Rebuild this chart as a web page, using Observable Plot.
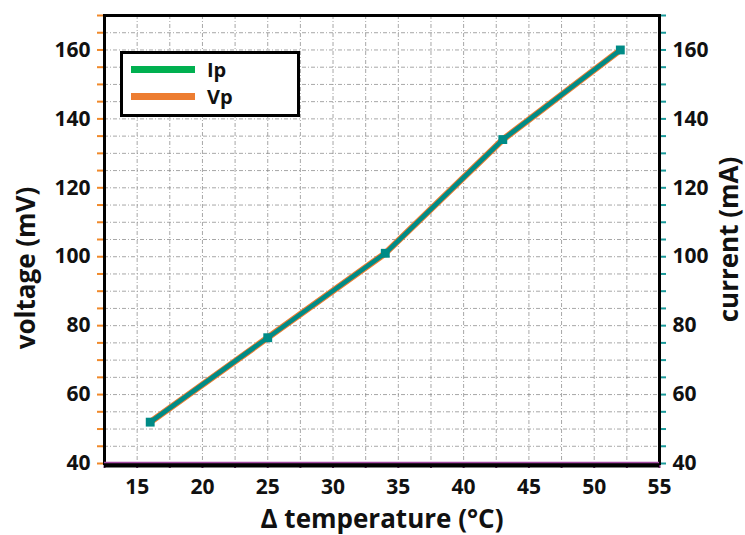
<!DOCTYPE html>
<html>
<head>
<meta charset="utf-8">
<script src="https://cdn.jsdelivr.net/npm/d3@7"></script>
<script src="https://cdn.jsdelivr.net/npm/@observablehq/plot@0.6"></script>
<style>
  html, body { margin: 0; padding: 0; background: #fff; }
  #wrap { position: relative; width: 745px; height: 535px; }
  #legend {
    position: absolute; left: 120px; top: 51px; width: 174px; height: 60px;
    border: 3px solid #000; background: #fff;
    font-family: "Open Sans", sans-serif; font-weight: bold; font-size: 20px; color: #111;
  }
  .lg-row { position: absolute; left: 8px; display: flex; align-items: center; }
  .lg-line { width: 64px; height: 7px; margin-right: 12px; }
  #ytitle {
    position: absolute; left: -125px; top: 253px; width: 300px; height: 30px;
    line-height: 30px; text-align: center; white-space: nowrap;
    font-family: "Open Sans", sans-serif; font-weight: bold; font-size: 26px; color: #111;
    transform: rotate(-90deg); transform-origin: 50% 50%;
  }
</style>
</head>
<body>
<div id="wrap"></div>
<script>
// ---- data ----
const temperature = [16, 25, 34, 43, 52];          // Δ temperature (°C)
const voltageVp   = [52, 76.5, 101, 134, 160];     // voltage (mV)
const currentIp   = [52, 76.5, 101, 134, 160];     // current (mA)

const xTicks   = [12.5, 15, 17.5, 20, 22.5, 25, 27.5, 30, 32.5, 35, 37.5, 40, 42.5, 45, 47.5, 50, 52.5, 55];
const xLabels  = [15, 20, 25, 30, 35, 40, 45, 50, 55];
const yTicks   = [40, 45, 50, 55, 60, 65, 70, 75, 80, 85, 90, 95, 100, 105, 110, 115, 120, 125, 130, 135, 140, 145, 150, 155, 160, 165, 170];
const yLabels  = [40, 60, 80, 100, 120, 140, 160];
const yLeftTitle = "voltage (mV)";
const seriesNames = ["Ip", "Vp"];
const seriesColors = ["#00b050", "#ed7d31"];

const vp = temperature.map((t, i) => ({t, v: voltageVp[i]}));
const ip = temperature.map((t, i) => ({t, v: currentIp[i]}));

const gridStyle = {stroke: "#8a8a8a", strokeOpacity: 0.75, strokeWidth: 1, strokeDasharray: "4,2,1,2"};

const chart = Plot.plot({
  width: 745,
  height: 535,
  marginLeft: 104,
  marginRight: 86,
  marginTop: 15,
  marginBottom: 72,
  x: {domain: [12.5, 55]},
  y: {domain: [40, 170]},
  style: {fontFamily: "'Open Sans', sans-serif", fontWeight: "bold", fontSize: "21px", color: "#111", background: "#fff", overflow: "visible"},
  marks: [
    Plot.gridX(xTicks.slice(1, -1), gridStyle),
    Plot.gridY(yTicks.slice(1, -1), gridStyle),
    // left axis (voltage)
    Plot.axisY({anchor: "left", ticks: yTicks, tickSize: 7, tickPadding: 7, stroke: "#f0892a", strokeWidth: 2, tickFormat: () => "", label: null}),
    Plot.axisY({anchor: "left", ticks: yLabels, tickSize: 0, tickPadding: 14, fill: "#111", label: null}),
    // right axis (current)
    Plot.axisY({anchor: "right", ticks: yTicks, tickSize: 6, tickPadding: 7, stroke: "#1a9a9a", strokeWidth: 2, tickFormat: () => "", label: null}),
    Plot.axisY({anchor: "right", ticks: yLabels, tickSize: 0, tickPadding: 13, fill: "#111", label: null}),
    Plot.axisY({anchor: "right", ticks: [], label: "current (mA)", labelAnchor: "center", labelOffset: 78, labelArrow: "none", fontSize: 26}),
    // bottom axis
    Plot.axisX({anchor: "bottom", ticks: xTicks, tickSize: 5, stroke: "#6a2a6a", strokeWidth: 2, tickFormat: () => "", label: null}),
    Plot.axisX({anchor: "bottom", ticks: xLabels, tickSize: 0, tickPadding: 16, fill: "#111", label: null}),
    Plot.axisX({anchor: "bottom", ticks: [], label: "Δ temperature (°C)", labelAnchor: "center", labelOffset: 64, labelArrow: "none", fontSize: 26}),
    // frame
    Plot.frame({stroke: "#000", strokeWidth: 3}),
    Plot.ruleY([40], {stroke: "#000", strokeWidth: 4, dy: 2}),
    Plot.ruleY([40], {stroke: "#a24aa2", strokeWidth: 1.5, dy: -1}),
    // series
    Plot.line(vp, {x: "t", y: "v", stroke: "#ed7d31", strokeWidth: 6.5}),
    Plot.line(ip, {x: "t", y: "v", stroke: "#008b86", strokeWidth: 4.5}),
    Plot.dot(ip, {x: "t", y: "v", symbol: "square", r: 5, fill: "#008b86", stroke: "none"})
  ]
});

const wrap = document.getElementById("wrap");
wrap.appendChild(chart);

// left axis title
const ytitle = document.createElement("div");
ytitle.id = "ytitle";
ytitle.textContent = yLeftTitle;
wrap.appendChild(ytitle);

// legend
const legend = document.createElement("div");
legend.id = "legend";
seriesNames.forEach((name, i) => {
  const row = document.createElement("div");
  row.className = "lg-row";
  row.style.top = (i === 0 ? 2 : 29) + "px";
  const sw = document.createElement("div");
  sw.className = "lg-line";
  sw.style.background = seriesColors[i];
  const lab = document.createElement("span");
  lab.textContent = name;
  row.appendChild(sw);
  row.appendChild(lab);
  legend.appendChild(row);
});
wrap.appendChild(legend);
</script>
</body>
</html>
